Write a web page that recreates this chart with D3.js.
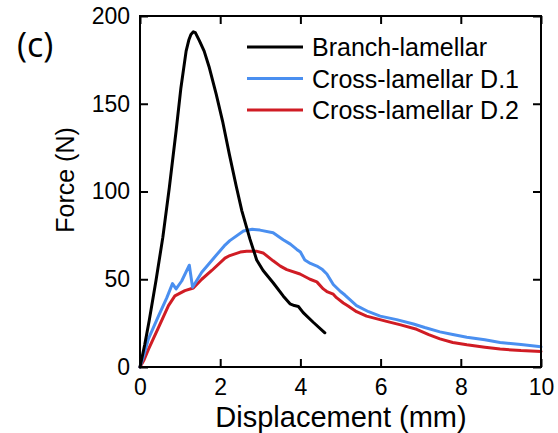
<!DOCTYPE html>
<meta charset="utf-8">
<style>
body { margin: 0; background: #fff; }
text { font-family: "Liberation Sans", Arial, sans-serif; fill: #000; }
.axis path { display: none; }
.axis line { stroke: #000; stroke-width: 2; }
.series { fill: none; stroke-width: 3; stroke-linejoin: round; stroke-linecap: round; }
</style>
<body>
<script src="https://d3js.org/d3.v7.min.js"></script>
<script>
// displacement (mm), force (N)
var branch = [[0,0],[0.12,13],[0.23,26.5],[0.4,49.5],[0.57,74],[0.73,102],[0.9,134.5],[1.02,159],
  [1.15,180],[1.22,186.5],[1.27,189.5],[1.33,191],[1.38,190.5],[1.48,186],[1.6,180],[1.73,170.5],
  [1.9,155.5],[2.06,140],[2.23,121],[2.4,103],[2.54,89],[2.74,73],[2.91,61],[3.07,55],[3.32,48],
  [3.57,40.5],[3.74,36],[3.85,35],[3.95,34.5],[4.07,31],[4.32,25.5],[4.61,19.5]];

var crossD1 = [[0,0],[0.1,7],[0.21,16],[0.46,29],[0.67,39.5],[0.81,47.5],[0.9,44.5],[1.04,49],
  [1.23,58],[1.31,45.5],[1.38,48],[1.54,54],[1.8,61],[2.1,69],[2.24,72],[2.58,77.5],[2.8,78.5],[2.99,78],
  [3.32,76.5],[3.57,72.5],[3.75,70],[3.91,67],[4.0,65.5],[4.11,61],[4.25,59],[4.41,57.5],[4.55,55.5],
  [4.66,53],[4.74,50],[4.82,47],[5.0,43],[5.11,41],[5.4,35],[5.7,31.5],[5.99,29],[6.4,27],[6.82,24.5],
  [7.1,22.5],[7.48,20],[7.8,18.5],[8.15,17],[8.6,15.5],[8.98,14],[9.5,12.8],[10,11.5]];

var crossD2 = [[0,0],[0.1,4],[0.21,10],[0.46,22.5],[0.71,35],[0.87,40.5],[1.12,43.5],[1.33,45],[1.54,50],
  [1.79,55],[2.12,62],[2.24,63.5],[2.5,65.5],[2.66,66],[2.9,66],[3.07,65],[3.32,60.5],[3.5,57.5],
  [3.66,55.5],[3.99,53],[4.24,50],[4.41,48.5],[4.57,44.5],[4.66,43],[4.82,41.5],[4.9,39.5],[5.07,36.5],
  [5.19,34.8],[5.4,31.5],[5.65,29],[6.15,26],[6.5,24],[6.9,21.5],[7.2,18.5],[7.48,16],[7.8,14],
  [8.15,12.7],[8.6,11.3],[8.98,10.2],[9.5,9.4],[10,8.9]];

var seriesNames = ["Branch-lamellar", "Cross-lamellar D.1", "Cross-lamellar D.2"];
var seriesColors = ["#000000", "#4a8ff0", "#d01c24"];
var xTicks = [0, 2, 4, 6, 8, 10];
var yTicks = [0, 50, 100, 150, 200];

var margin = {top: 16, right: 17, bottom: 66, left: 140},
  width = 558 - margin.left - margin.right,
  height = 433 - margin.top - margin.bottom;

var svg = d3.select("body").append("svg")
  .attr("width", 558)
  .attr("height", 433);

var g = svg.append("g")
  .attr("transform", "translate(" + margin.left + "," + margin.top + ")");

var x = d3.scaleLinear().domain([0, 10]).range([0, width]);
var y = d3.scaleLinear().domain([0, 200]).range([height, 0]);

// inward ticks on all four sides
g.append("g").attr("class", "axis")
  .attr("transform", "translate(0," + height + ")")
  .call(d3.axisBottom(x).tickValues(xTicks).tickSize(-8).tickPadding(12))
  .selectAll("text").style("font-size", "23px");

g.append("g").attr("class", "axis")
  .call(d3.axisTop(x).tickValues(xTicks).tickSize(-8).tickFormat(""));

g.append("g").attr("class", "axis")
  .call(d3.axisLeft(y).tickValues(yTicks).tickSize(-8).tickPadding(10))
  .selectAll("text").style("font-size", "23px");

g.append("g").attr("class", "axis")
  .attr("transform", "translate(" + width + ",0)")
  .call(d3.axisRight(y).tickValues(yTicks).tickSize(-8).tickFormat(""));

var line = d3.line()
  .x(function(d) { return x(d[0]); })
  .y(function(d) { return y(d[1]); });

// draw red first so blue and black sit on top
var data = [branch, crossD1, crossD2];
[2, 1, 0].forEach(function(i) {
  g.append("path")
    .attr("class", "series")
    .attr("stroke", seriesColors[i])
    .attr("d", line(data[i]));
});

g.append("rect")
  .attr("width", width)
  .attr("height", height)
  .attr("fill", "none")
  .attr("stroke", "#000")
  .attr("stroke-width", 2);

// legend
var legend = g.selectAll(".legend")
  .data(seriesNames)
  .enter().append("g")
  .attr("class", "legend")
  .attr("transform", function(d, i) { return "translate(107," + (31 + i * 31.5) + ")"; });

legend.append("line")
  .attr("x1", 0).attr("x2", 56)
  .attr("stroke", function(d, i) { return seriesColors[i]; })
  .attr("stroke-width", 3);

legend.append("text")
  .attr("x", 65)
  .attr("dy", "0.36em")
  .style("font-size", "25px")
  .text(function(d) { return d; });

// titles
svg.append("text")
  .attr("x", 341)
  .attr("y", 427)
  .attr("text-anchor", "middle")
  .style("font-size", "29px")
  .text("Displacement (mm)");

svg.append("text")
  .attr("transform", "translate(74,180) rotate(-90)")
  .attr("text-anchor", "middle")
  .style("font-size", "25px")
  .text("Force (N)");

svg.append("text")
  .attr("x", 17)
  .attr("y", 57)
  .style("font-family", "'Open Sans', sans-serif")
  .style("font-size", "34px")
  .text("(c)");
</script>
